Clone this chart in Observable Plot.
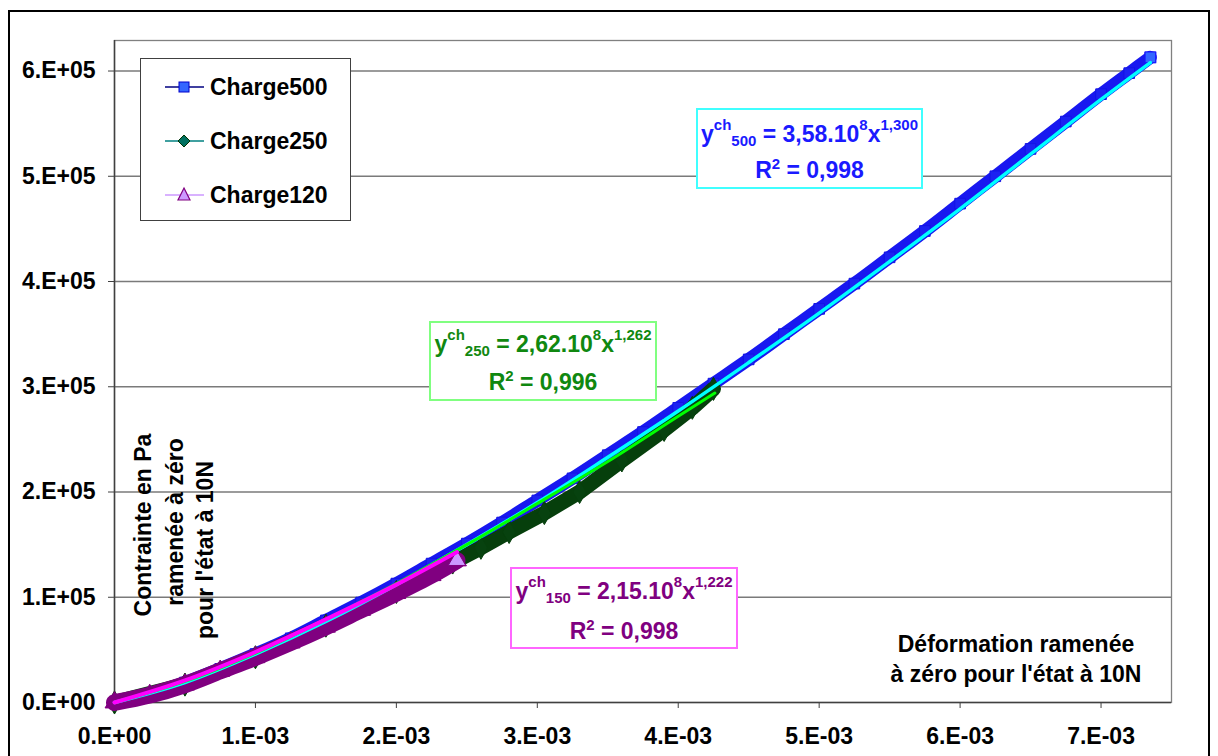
<!DOCTYPE html>
<html><head><meta charset="utf-8">
<script src="https://cdn.jsdelivr.net/npm/d3@7"></script>
<script src="https://cdn.jsdelivr.net/npm/@observablehq/plot@0.6"></script>
<style>
html,body{margin:0;padding:0;background:#fff;}
#wrap{position:relative;width:1218px;height:756px;overflow:hidden;font-family:"Liberation Sans",Arial,sans-serif;font-weight:bold;color:#000;}
#frame{position:absolute;left:8px;top:10px;width:1202px;height:800px;border:2px solid #000;box-sizing:border-box;}
#chart{position:absolute;left:0;top:0;}
.abs{position:absolute;white-space:nowrap;font-size:23px;line-height:30px;}
.legend{position:absolute;background:#fff;border:1.5px solid #404040;box-sizing:border-box;}
.box{position:absolute;background:#fff;border:2px solid;box-sizing:border-box;}
.box .ln{position:absolute;left:0;right:0;text-align:center;font-size:23px;line-height:30px;white-space:nowrap;}
.sup{font-size:15px;position:relative;top:-12px;}
.sup2{font-size:15px;position:relative;top:-9px;}
.sub{font-size:15px;position:relative;top:4px;}
.rot{position:absolute;white-space:nowrap;font-size:23px;line-height:30px;transform:translate(-50%,-50%) rotate(-90deg);}
</style></head><body><div id="wrap"><div id="frame"></div><div id="chart"></div></div>
<script>
// ---- data (strain in 1e-3, stress in 1e5 Pa) ----
const seriesNames = ["Charge500", "Charge250", "Charge120"];
const strain500 = [0, 0.25, 0.5, 0.75, 1, 1.25, 1.5, 1.75, 2, 2.25, 2.5, 2.75, 3, 3.25, 3.5, 3.75, 4, 4.25, 4.5, 4.75, 5, 5.25, 5.5, 5.75, 6, 6.25, 6.5, 6.75, 7, 7.2, 7.35];
const stress500 = [0, 0.08, 0.19, 0.32, 0.46, 0.61, 0.78, 0.95, 1.13, 1.32, 1.51, 1.71, 1.92, 2.13, 2.35, 2.57, 2.80, 3.03, 3.26, 3.50, 3.74, 3.98, 4.23, 4.48, 4.74, 5.00, 5.26, 5.52, 5.78, 5.98, 6.13];
const strain250 = [0, 0.5, 1, 1.5, 2, 2.4, 2.6, 2.8, 3.05, 3.3, 3.6, 3.9, 4.1, 4.25];
const stress250 = [0, 0.17, 0.43, 0.73, 1.05, 1.33, 1.47, 1.62, 1.80, 2.00, 2.30, 2.59, 2.80, 2.98];
const strain120 = [0, 0.25, 0.5, 0.75, 1, 1.25, 1.5, 1.75, 2, 2.25, 2.43];
const stress120 = [0, 0.07, 0.17, 0.30, 0.43, 0.57, 0.72, 0.88, 1.04, 1.21, 1.35];
// trend lines
const fitStrain500 = [0, 0.5, 1, 1.5, 2, 2.5, 3, 3.5, 4, 4.5, 5, 5.5, 6, 6.5, 7, 7.35];
const fitStress500 = [0, 0.19, 0.46, 0.77, 1.12, 1.50, 1.90, 2.33, 2.77, 3.23, 3.70, 4.19, 4.69, 5.21, 5.73, 6.08];
const fitStrain250 = [0, 0.5, 1, 1.5, 2, 2.5, 3, 3.5, 4, 4.26];
const fitStress250 = [0, 0.20, 0.47, 0.79, 1.13, 1.50, 1.89, 2.29, 2.72, 2.94];
const fitStrain120 = [0, 0.5, 1, 1.5, 2, 2.43];
const fitStress120 = [0, 0.21, 0.48, 0.79, 1.12, 1.43];
// ticks
const xTickValues = [0, 1, 2, 3, 4, 5, 6, 7];
const xTickLabels = ["0.E+00", "1.E-03", "2.E-03", "3.E-03", "4.E-03", "5.E-03", "6.E-03", "7.E-03"];
const yTickValues = [0, 1, 2, 3, 4, 5, 6];
const yTickLabels = ["0.E+00", "1.E+05", "2.E+05", "3.E+05", "4.E+05", "5.E+05", "6.E+05"];
// annotations
const fitCoef = ["3,58", "2,62", "2,15"];
const fitExp = ["1,300", "1,262", "1,222"];
const fitIdx = ["500", "250", "150"];
const fitR2 = ["0,998", "0,996", "0,998"];

const zip = (xs, ys) => xs.map((x, i) => ({x, y: ys[i]}));
const d500 = zip(strain500, stress500), d250 = zip(strain250, stress250), d120 = zip(strain120, stress120);
const f500 = zip(fitStrain500, fitStress500), f250 = zip(fitStrain250, fitStress250), f120 = zip(fitStrain120, fitStress120);

const chart = Plot.plot({
  width: 1218, height: 756,
  marginLeft: 114, marginRight: 47, marginTop: 40, marginBottom: 54,
  x: {domain: [0, 7.5]},
  y: {domain: [0, 6.29]},
  style: {fontFamily: "'Liberation Sans', Arial, sans-serif", fontSize: "23px", fontWeight: "bold", color: "#000", background: "transparent", overflow: "visible"},
  marks: [
    Plot.ruleY(yTickValues.filter(d => d > 0), {stroke: "#7a7a7a", strokeWidth: 1.3, strokeOpacity: 1}),
    Plot.frame({stroke: "#808080", strokeWidth: 1.3}),
    Plot.ruleX([0], {stroke: "#404040", strokeWidth: 1.5}),
    Plot.ruleY([0], {stroke: "#404040", strokeWidth: 1.5}),
    Plot.axisX({ticks: xTickValues, tickFormat: d => xTickLabels[xTickValues.indexOf(d)], tickSize: 6, tickPadding: 19, label: null, stroke: "#404040", fill: "#000"}),
    Plot.axisY({ticks: yTickValues, tickFormat: d => yTickLabels[yTickValues.indexOf(d)], tickSize: 6, tickPadding: 13, label: null, stroke: "#404040", fill: "#000"}),
    // Charge500
    Plot.line(d500, {x: "x", y: "y", stroke: "#1818f0", strokeWidth: 13, curve: "catmull-rom"}),
    Plot.dot(d500, {x: "x", y: "y", symbol: "square", r: 6, fill: "#1c22f2", stroke: "#1414e4", strokeWidth: 1}),
    Plot.dot(d500.slice(-1), {x: "x", y: "y", symbol: "square", r: 6, fill: "#3366ff", stroke: "#1a1aff", strokeWidth: 1.2}),
    // Charge250
    Plot.line(d250, {x: "x", y: "y", stroke: "#063f0c", strokeWidth: 15, curve: "linear"}),
    Plot.dot(d250, {x: "x", y: "y", symbol: "diamond", r: 7, fill: "#07420f", stroke: "#063f0c", strokeWidth: 1}),
    // Charge120
    Plot.line(d120, {x: "x", y: "y", stroke: "#800080", strokeWidth: 17, curve: "catmull-rom"}),
    Plot.dot(d120, {x: "x", y: "y", symbol: "triangle", r: 7, fill: "#800080", stroke: "#800080", strokeWidth: 1}),
    Plot.dot(d120.slice(-1), {x: "x", y: "y", symbol: "triangle", r: 6.5, fill: "#cc99ff", stroke: "#800080", strokeWidth: 1}),
    // trend lines
    Plot.line(f500, {x: "x", y: "y", stroke: "#00ffff", strokeWidth: 3.5, curve: "catmull-rom"}),
    Plot.line(f250, {x: "x", y: "y", stroke: "#00ff00", strokeWidth: 3, curve: "catmull-rom"}),
    Plot.line(f120, {x: "x", y: "y", stroke: "#ff00ff", strokeWidth: 4, curve: "catmull-rom"})
  ]
});
document.getElementById("chart").appendChild(chart);

const wrap = document.getElementById("wrap");
function add(html) { const t = document.createElement("div"); t.innerHTML = html; const el = t.firstElementChild; wrap.appendChild(el); return el; }

// legend
const legendStyles = [
  {line: "#000080", sym: '<rect x="14" y="5" width="10" height="10" fill="#3366ff" stroke="#0000cc" stroke-width="1"/>'},
  {line: "#008080", sym: '<polygon points="19,4 25,10 19,16 13,10" fill="#007060" stroke="#003300" stroke-width="1"/>'},
  {line: "#cc99ff", sym: '<polygon points="19,3 25,15 13,15" fill="#cc99ff" stroke="#800080" stroke-width="1.2"/>'}
];
add('<div class="legend" style="left:140px;top:58px;width:211px;height:163px"></div>');
const rowTops = [72, 126, 180];
seriesNames.forEach((n, i) => {
  add(`<svg style="position:absolute;left:165px;top:${rowTops[i] + 5}px" width="40" height="20"><line x1="0" x2="39" y1="10" y2="10" stroke="${legendStyles[i].line}" stroke-width="1.5"/>${legendStyles[i].sym}</svg>`);
  add(`<div class="abs" style="left:210px;top:${rowTops[i]}px">${n}</div>`);
});

// equation boxes
const boxes = [
  {left: 696, top: 108, w: 227, h: 81, border: "#40ffff", color: "#1a1aff", t1: 9, t2: 45},
  {left: 429, top: 321, w: 228, h: 80, border: "#80ff80", color: "#108810", t1: 6, t2: 44},
  {left: 510, top: 567, w: 228, h: 82, border: "#ff66ff", color: "#800080", t1: 7, t2: 47}
];
boxes.forEach((b, i) => {
  add(`<div class="box" style="left:${b.left}px;top:${b.top}px;width:${b.w}px;height:${b.h}px;border-color:${b.border};color:${b.color}">
    <div class="ln" style="top:${b.t1}px">y<span class="sup">ch</span><span class="sub">${fitIdx[i]}</span> = ${fitCoef[i]}.10<span class="sup">8</span>x<span class="sup">${fitExp[i]}</span></div>
    <div class="ln" style="top:${b.t2}px">R<span class="sup2">2</span> = ${fitR2[i]}</div>
  </div>`);
});

// axis titles
add('<div class="rot" style="left:143px;top:525px">Contrainte en Pa</div>');
add('<div class="rot" style="left:175px;top:522px">ramenée à zéro</div>');
add('<div class="rot" style="left:205px;top:550px">pour l\'état à 10N</div>');
add('<div class="abs" style="left:1016px;top:629px;transform:translateX(-50%);text-align:center">Déformation ramenée<br>à zéro pour l\'état à 10N</div>');
</script></body></html>
